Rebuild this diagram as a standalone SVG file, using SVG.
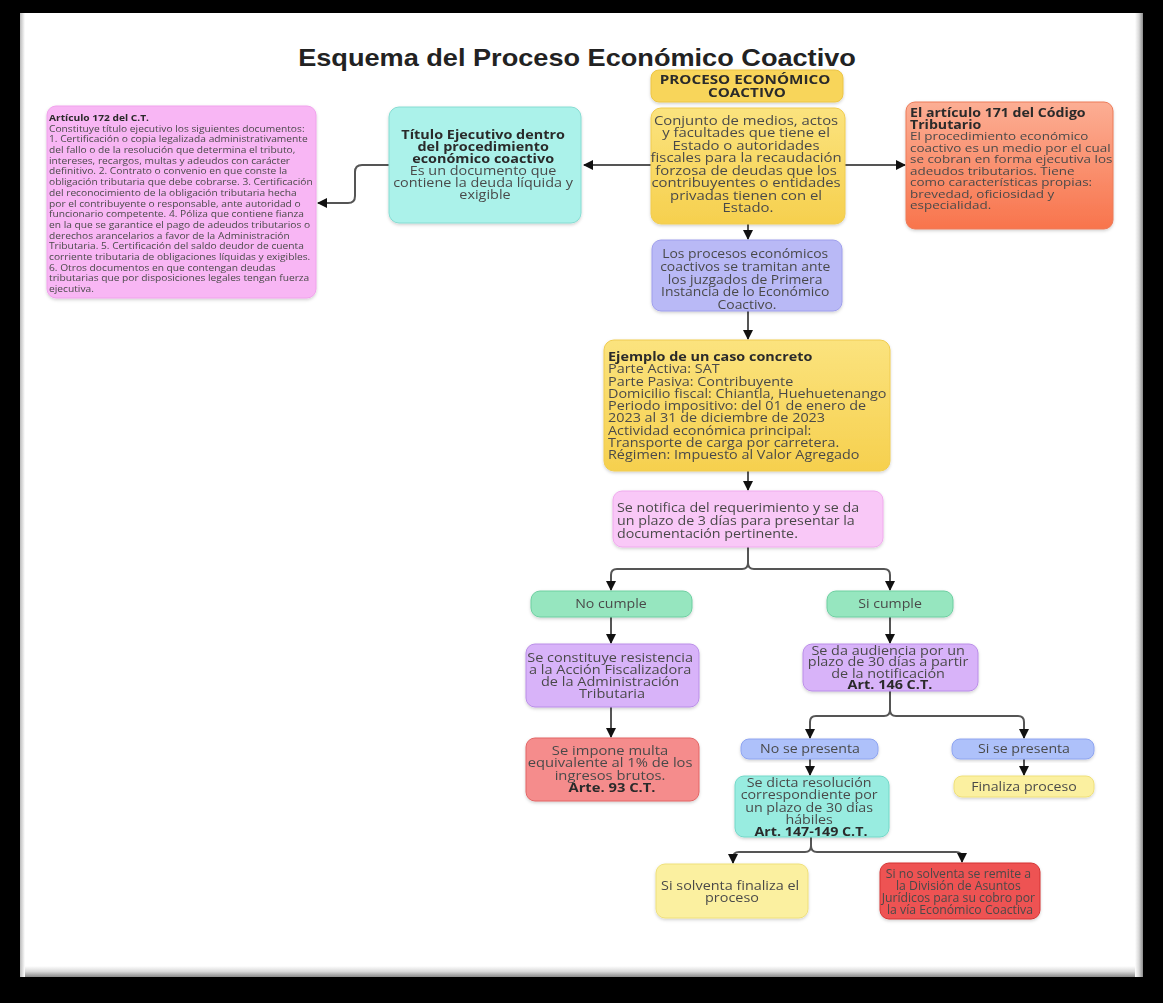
<svg xmlns="http://www.w3.org/2000/svg" width="1163" height="1003" viewBox="0 0 1163 1003">
<defs>
<style>
.t{font-family:"Open Sans","DejaVu Sans",sans-serif;fill:#4a4a4a}
.c{text-anchor:middle}
.b{font-weight:bold;fill:#2b2b2b}
.conn{fill:none;stroke:#555;stroke-width:2}
</style>
<marker id="ah" markerUnits="userSpaceOnUse" markerWidth="12" markerHeight="12" refX="9" refY="5" orient="auto">
<path d="M0,0 L10,5 L0,10 z" fill="#111"/>
</marker>
<filter id="sh" x="-10%" y="-10%" width="120%" height="130%">
<feDropShadow dx="0" dy="1.5" stdDeviation="1.5" flood-color="#000" flood-opacity="0.18"/>
</filter>
<linearGradient id="gy" x1="0" y1="0" x2="0" y2="1"><stop offset="0" stop-color="#fbe37e"/><stop offset="1" stop-color="#f6d04e"/></linearGradient>
<linearGradient id="go" x1="0" y1="0" x2="0" y2="1"><stop offset="0" stop-color="#fcae94"/><stop offset="1" stop-color="#f8744c"/></linearGradient>
<linearGradient id="gb" x1="0" y1="0" x2="0" y2="1"><stop offset="0" stop-color="#ffffff"/><stop offset="0.5" stop-color="#d8d8d8"/><stop offset="1" stop-color="#8a8a8a"/></linearGradient>
<linearGradient id="gr" x1="0" y1="0" x2="1" y2="0"><stop offset="0" stop-color="#ffffff"/><stop offset="0.5" stop-color="#d8d8d8"/><stop offset="1" stop-color="#8a8a8a"/></linearGradient>
<linearGradient id="gl" x1="0" y1="0" x2="1" y2="0"><stop offset="0" stop-color="#bbbbbb"/><stop offset="1" stop-color="#ffffff"/></linearGradient>
</defs>
<rect x="0" y="0" width="1163" height="1003" fill="#000"/>
<g id="page">
<rect x="20" y="13" width="1123" height="964" fill="#fff"/>
<rect x="20" y="966" width="1123" height="11" fill="url(#gb)"/>
<rect x="1135" y="13" width="8" height="964" fill="url(#gr)"/>
<rect x="20" y="13" width="5" height="964" fill="url(#gl)"/>
</g>
<text x="577" y="66" font-family="Liberation Sans,Arial,sans-serif" font-size="23" font-weight="bold" fill="#222" text-anchor="middle" transform="matrix(1.18 0 0 1 -103.86 0)">Esquema del Proceso Económico Coactivo</text>

<g id="connectors">
<path class="conn" d="M651,165 H584" marker-end="url(#ah)"/>
<path class="conn" d="M845,165 H905" marker-end="url(#ah)"/>
<path class="conn" d="M389,165 H362 Q355,165 355,172 V196 Q355,203 348,203 H318" marker-end="url(#ah)"/>
<path class="conn" d="M748,224 V239" marker-end="url(#ah)"/>
<path class="conn" d="M748,311 V339" marker-end="url(#ah)"/>
<path class="conn" d="M748,471 V490" marker-end="url(#ah)"/>
<path class="conn" d="M748,547 V563 Q748,569 742,569 H617 Q611,569 611,575 V590" marker-end="url(#ah)"/>
<path class="conn" d="M748,563 Q748,569 754,569 H884 Q890,569 890,575 V590" marker-end="url(#ah)"/>
<path class="conn" d="M611,617 V643" marker-end="url(#ah)"/>
<path class="conn" d="M890,617 V643" marker-end="url(#ah)"/>
<path class="conn" d="M611,707 V737" marker-end="url(#ah)"/>
<path class="conn" d="M890,691 V710 Q890,716 884,716 H816 Q810,716 810,722 V738" marker-end="url(#ah)"/>
<path class="conn" d="M890,710 Q890,716 896,716 H1018 Q1024,716 1024,722 V738" marker-end="url(#ah)"/>
<path class="conn" d="M810,759 V775" marker-end="url(#ah)"/>
<path class="conn" d="M1024,759 V775" marker-end="url(#ah)"/>
<path class="conn" d="M811,837 V846 Q811,852 805,852 H739 Q733,852 733,858 V863" marker-end="url(#ah)"/>
<path class="conn" d="M811,846 Q811,852 817,852 H956 Q962,852 962,858 V862" marker-end="url(#ah)"/>
</g>

<g id="n-art172" filter="url(#sh)">
<rect x="47" y="106" width="269" height="192" rx="9" fill="#f8b6f4" stroke="#f0a2ec"/>
<text class="t" font-size="8.6" x="49" transform="matrix(1.19 0 0 1 -9.31 0)">
<tspan class="b" x="49" y="121">Artículo 172 del C.T.</tspan>
<tspan x="49" y="131.7">Constituye título ejecutivo los siguientes documentos:</tspan>
<tspan x="49" y="142.4">1. Certificación o copia legalizada administrativamente</tspan>
<tspan x="49" y="153.1">del fallo o de la resolución que determina el tributo,</tspan>
<tspan x="49" y="163.8">intereses, recargos, multas y adeudos con carácter</tspan>
<tspan x="49" y="174.5">definitivo. 2. Contrato o convenio en que conste la</tspan>
<tspan x="49" y="185.2">obligación tributaria que debe cobrarse. 3. Certificación</tspan>
<tspan x="49" y="195.9">del reconocimiento de la obligación tributaria hecha</tspan>
<tspan x="49" y="206.6">por el contribuyente o responsable, ante autoridad o</tspan>
<tspan x="49" y="217.3">funcionario competente. 4. Póliza que contiene fianza</tspan>
<tspan x="49" y="228">en la que se garantice el pago de adeudos tributarios o</tspan>
<tspan x="49" y="238.7">derechos arancelarios a favor de la Administración</tspan>
<tspan x="49" y="249.4">Tributaria. 5. Certificación del saldo deudor de cuenta</tspan>
<tspan x="49" y="260.1">corriente tributaria de obligaciones líquidas y exigibles.</tspan>
<tspan x="49" y="270.8">6. Otros documentos en que contengan deudas</tspan>
<tspan x="49" y="281.5">tributarias que por disposiciones legales tengan fuerza</tspan>
<tspan x="49" y="292.2">ejecutiva.</tspan>
</text>
</g>

<g id="n-titulo" filter="url(#sh)">
<rect x="389" y="107" width="192" height="116" rx="10" fill="#abf2ea" stroke="#86dcd2"/>
<text class="t c" font-size="12" x="485" transform="matrix(1.2 0 0 1 -97 0)">
<tspan class="b" x="485" y="139">Título Ejecutivo dentro</tspan>
<tspan class="b" x="485" y="151">del procedimiento</tspan>
<tspan class="b" x="485" y="163">económico coactivo</tspan>
<tspan x="485" y="175">Es un documento que</tspan>
<tspan x="485" y="187">contiene la deuda líquida y</tspan>
<tspan x="485" y="199">exigible</tspan>
</text>
</g>

<g id="n-header" filter="url(#sh)">
<rect x="651" y="70" width="192" height="32" rx="8" fill="#f8d55a" stroke="#ecc546"/>
<text class="t c b" font-size="12.5" x="747" transform="matrix(1.22 0 0 1 -164.34 0)">
<tspan x="747" y="84">PROCESO ECONÓMICO</tspan>
<tspan x="747" y="97">COACTIVO</tspan>
</text>
</g>

<g id="n-conjunto" filter="url(#sh)">
<rect x="651" y="108" width="194" height="116" rx="10" fill="url(#gy)" stroke="#f0cc50"/>
<text class="t c" font-size="12.4" x="748" transform="matrix(1.2 0 0 1 -149.6 0)">
<tspan x="748" y="125">Conjunto de medios, actos</tspan>
<tspan x="748" y="137.5">y facultades que tiene el</tspan>
<tspan x="748" y="150">Estado o autoridades</tspan>
<tspan x="748" y="162.5">fiscales para la recaudación</tspan>
<tspan x="748" y="175">forzosa de deudas que los</tspan>
<tspan x="748" y="187.5">contribuyentes o entidades</tspan>
<tspan x="748" y="200">privadas tienen con el</tspan>
<tspan x="748" y="212.5">Estado.</tspan>
</text>
</g>

<g id="n-art171" filter="url(#sh)">
<rect x="906" y="102" width="207" height="127" rx="9" fill="url(#go)" stroke="#ec7a58"/>
<text class="t" font-size="11.2" x="910" transform="matrix(1.2 0 0 1 -182 0)">
<tspan class="b" font-size="11.8" x="910" y="117">El artículo 171 del Código</tspan>
<tspan class="b" font-size="11.8" x="910" y="129">Tributario</tspan>
<tspan x="910" y="140.5">El procedimiento económico</tspan>
<tspan x="910" y="152">coactivo es un medio por el cual</tspan>
<tspan x="910" y="163.5">se cobran en forma ejecutiva los</tspan>
<tspan x="910" y="175">adeudos tributarios. Tiene</tspan>
<tspan x="910" y="186.5">como características propias:</tspan>
<tspan x="910" y="198">brevedad, oficiosidad y</tspan>
<tspan x="910" y="209.5">especialidad.</tspan>
</text>
</g>

<g id="n-procesos" filter="url(#sh)">
<rect x="652" y="240" width="190" height="71" rx="9" fill="#b9b9f6" stroke="#9e9eec"/>
<text class="t c" font-size="12" x="747" transform="matrix(1.16 0 0 1 -119.52 0)">
<tspan x="747" y="258">Los procesos económicos</tspan>
<tspan x="747" y="270.8">coactivos se tramitan ante</tspan>
<tspan x="747" y="283.6">los juzgados de Primera</tspan>
<tspan x="747" y="296.4">Instancia de lo Económico</tspan>
<tspan x="747" y="309">Coactivo.</tspan>
</text>
</g>

<g id="n-ejemplo" filter="url(#sh)">
<rect x="604" y="340" width="286" height="131" rx="10" fill="url(#gy)" stroke="#f0cc50"/>
<text class="t" font-size="12.3" x="607" transform="matrix(1.17 0 0 1 -102.19 0)">
<tspan class="b" x="607" y="361">Ejemplo de un caso concreto</tspan>
<tspan x="607" y="373.3">Parte Activa: SAT</tspan>
<tspan x="607" y="385.6">Parte Pasiva: Contribuyente</tspan>
<tspan x="607" y="397.9">Domicilio fiscal: Chiantla, Huehuetenango</tspan>
<tspan x="607" y="410.2">Periodo impositivo: del 01 de enero de</tspan>
<tspan x="607" y="422.5">2023 al 31 de diciembre de 2023</tspan>
<tspan x="607" y="434.8">Actividad económica principal:</tspan>
<tspan x="607" y="447.1">Transporte de carga por carretera.</tspan>
<tspan x="607" y="459.4">Régimen: Impuesto al Valor Agregado</tspan>
</text>
</g>

<g id="n-notifica" filter="url(#sh)">
<rect x="613" y="491" width="270" height="56" rx="9" fill="#f9c8f7" stroke="#f0aaee"/>
<text class="t" font-size="12" x="617" transform="matrix(1.19 0 0 1 -117.23 0)">
<tspan x="617" y="512">Se notifica del requerimiento y se da</tspan>
<tspan x="617" y="525">un plazo de 3 días para presentar la</tspan>
<tspan x="617" y="538">documentación pertinente.</tspan>
</text>
</g>

<g id="n-nocumple" filter="url(#sh)">
<rect x="531" y="591" width="161" height="26" rx="9" fill="#96e6bf" stroke="#6ccfa0"/>
<text class="t c" font-size="12" x="611" y="608.5" transform="matrix(1.18 0 0 1 -109.98 0)">No cumple</text>
</g>

<g id="n-sicumple" filter="url(#sh)">
<rect x="827" y="591" width="126" height="26" rx="9" fill="#96e6bf" stroke="#6ccfa0"/>
<text class="t c" font-size="12" x="890" y="608.5" transform="matrix(1.18 0 0 1 -160.2 0)">Si cumple</text>
</g>

<g id="n-constituye" filter="url(#sh)">
<rect x="526" y="644" width="173" height="63" rx="9" fill="#d8b3f9" stroke="#ba8de8"/>
<text class="t c" font-size="12.3" x="612" transform="matrix(1.18 0 0 1 -110.16 0)">
<tspan x="612" y="662">Se constituye resistencia</tspan>
<tspan x="612" y="674">a la Acción Fiscalizadora</tspan>
<tspan x="612" y="686">de la Administración</tspan>
<tspan x="612" y="698">Tributaria</tspan>
</text>
</g>

<g id="n-audiencia" filter="url(#sh)">
<rect x="803" y="644" width="175" height="47" rx="9" fill="#d8b3f9" stroke="#ba8de8"/>
<text class="t c" font-size="12" x="890" transform="matrix(1.2 0 0 1 -178 0)">
<tspan x="890" y="655">Se da audiencia por un</tspan>
<tspan x="890" y="666.5">plazo de 30 días a partir</tspan>
<tspan x="890" y="678">de la notificación</tspan>
<tspan class="b" x="890" y="689.5">Art. 146 C.T.</tspan>
</text>
</g>

<g id="n-multa" filter="url(#sh)">
<rect x="526" y="738" width="173" height="63" rx="9" fill="#f58c8c" stroke="#e26464"/>
<text class="t c" font-size="12.5" x="612" transform="matrix(1.18 0 0 1 -110.16 0)">
<tspan x="612" y="755">Se impone multa</tspan>
<tspan x="612" y="767.5">equivalente al 1% de los</tspan>
<tspan x="612" y="780">ingresos brutos.</tspan>
<tspan class="b" x="612" y="792.5">Arte. 93 C.T.</tspan>
</text>
</g>

<g id="n-nopresenta" filter="url(#sh)">
<rect x="741" y="739" width="137" height="20" rx="8" fill="#aec1fa" stroke="#8ea4f0"/>
<text class="t c" font-size="12" x="810" y="753.5" transform="matrix(1.18 0 0 1 -145.8 0)">No se presenta</text>
</g>

<g id="n-sipresenta" filter="url(#sh)">
<rect x="952" y="739" width="142" height="20" rx="8" fill="#aec1fa" stroke="#8ea4f0"/>
<text class="t c" font-size="12" x="1024" y="753.5" transform="matrix(1.18 0 0 1 -184.32 0)">Si se presenta</text>
</g>

<g id="n-dicta" filter="url(#sh)">
<rect x="735" y="776" width="154" height="61" rx="9" fill="#98ece0" stroke="#72d8c8"/>
<text class="t c" font-size="12" x="811" transform="matrix(1.19 0 0 1 -154.09 0)">
<tspan x="811" y="787">Se dicta resolución</tspan>
<tspan x="811" y="799.5">correspondiente por</tspan>
<tspan x="811" y="812">un plazo de 30 días</tspan>
<tspan x="811" y="824">hábiles</tspan>
<tspan class="b" x="811" y="836">Art. 147-149 C.T.</tspan>
</text>
</g>

<g id="n-finaliza" filter="url(#sh)">
<rect x="954" y="776" width="140" height="21" rx="8" fill="#fbf0a0" stroke="#efe07a"/>
<text class="t c" font-size="12" x="1024" y="791" transform="matrix(1.18 0 0 1 -184.32 0)">Finaliza proceso</text>
</g>

<g id="n-solventa" filter="url(#sh)">
<rect x="656" y="864" width="152" height="54" rx="9" fill="#fbf0a0" stroke="#efe07a"/>
<text class="t c" font-size="12" x="732" transform="matrix(1.2 0 0 1 -146.4 0)">
<tspan x="732" y="890">Si solventa finaliza el</tspan>
<tspan x="732" y="902">proceso</tspan>
</text>
</g>

<g id="n-nosolventa" filter="url(#sh)">
<rect x="880" y="863" width="160" height="56" rx="9" fill="#ee5252" stroke="#d43434"/>
<text class="t c" font-size="12" x="960" transform="matrix(1.02 0 0 1 -19.2 0)">
<tspan x="960" y="878">Si no solventa se remite a</tspan>
<tspan x="960" y="890">la División de Asuntos</tspan>
<tspan x="960" y="902">Jurídicos para su cobro por</tspan>
<tspan x="960" y="914">la vía Económico Coactiva</tspan>
</text>
</g>
</svg>
